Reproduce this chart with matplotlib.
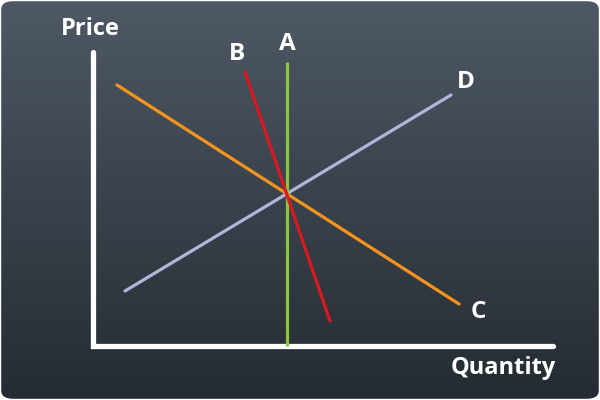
import numpy as np
import matplotlib.pyplot as plt
from matplotlib.patches import FancyBboxPatch

# line endpoints (quantity, price) in chart units, origin at the axis corner
line_a_x = [194, 194]
line_a_y = [0, 284]
line_b_x = [152, 237]
line_b_y = [274, 25]
line_c_x = [24, 366]
line_c_y = [261, 42]
line_d_x = [32, 358]
line_d_y = [55, 251]

axis_len_x = 460
axis_len_y = 294

fig = plt.figure(figsize=(6, 4), dpi=100)
fig.patch.set_facecolor('white')
ax = fig.add_axes([0, 0, 1, 1])
ax.set_xlim(-93, 507)
ax.set_ylim(-54, 346)
ax.axis('off')

# gradient background with rounded corners
grad = np.linspace(0, 1, 256).reshape(-1, 1)
top = np.array([0x4e, 0x59, 0x65]) / 255
bot = np.array([0x25, 0x2b, 0x32]) / 255
img = top + (bot - top) * grad[..., None]
im = ax.imshow(img, extent=[-93, 507, -54, 346], aspect='auto', zorder=0, origin='upper')
box = FancyBboxPatch((0.002, 0.003), 0.996, 0.994, boxstyle='round,pad=0,rounding_size=0.02',
                     transform=ax.transAxes, facecolor='none', edgecolor='none')
ax.add_patch(box)
im.set_clip_path(box)

# axes
ax.plot([0, 0, axis_len_x], [axis_len_y, 0, 0], color='white', lw=3.8,
        solid_capstyle='round', solid_joinstyle='miter', zorder=2)

lw = 2.3
ax.plot(line_d_x, line_d_y, color='#b4b3da', lw=lw, solid_capstyle='round', zorder=3)
ax.plot(line_c_x, line_c_y, color='#f7941d', lw=lw, solid_capstyle='round', zorder=4)
ax.plot(line_a_x, line_a_y, color='#8cc63f', lw=lw, solid_capstyle='butt', zorder=5)
ax.plot(line_b_x, line_b_y, color='#d9191f', lw=lw, solid_capstyle='round', zorder=6)

font = dict(color='white', fontweight='bold', family=['Open Sans', 'DejaVu Sans'])
ax.text(-32, 305, 'Price', fontsize=17, ha='left', va='bottom', **font)
ax.text(463, -10, 'Quantity', fontsize=17, ha='right', va='top', **font)
ax.text(line_a_x[1], line_a_y[1] + 6, 'A', fontsize=17.5, ha='center', va='bottom', **font)
ax.text(line_b_x[0] - 8, line_b_y[0] + 6, 'B', fontsize=17.5, ha='center', va='bottom', **font)
ax.text(line_c_x[1] + 19, line_c_y[1] - 8, 'C', fontsize=17.5, ha='center', va='center', **font)
ax.text(line_d_x[1] + 15, line_d_y[1] + 13, 'D', fontsize=17.5, ha='center', va='center', **font)

fig.savefig('out.png', dpi=100)
